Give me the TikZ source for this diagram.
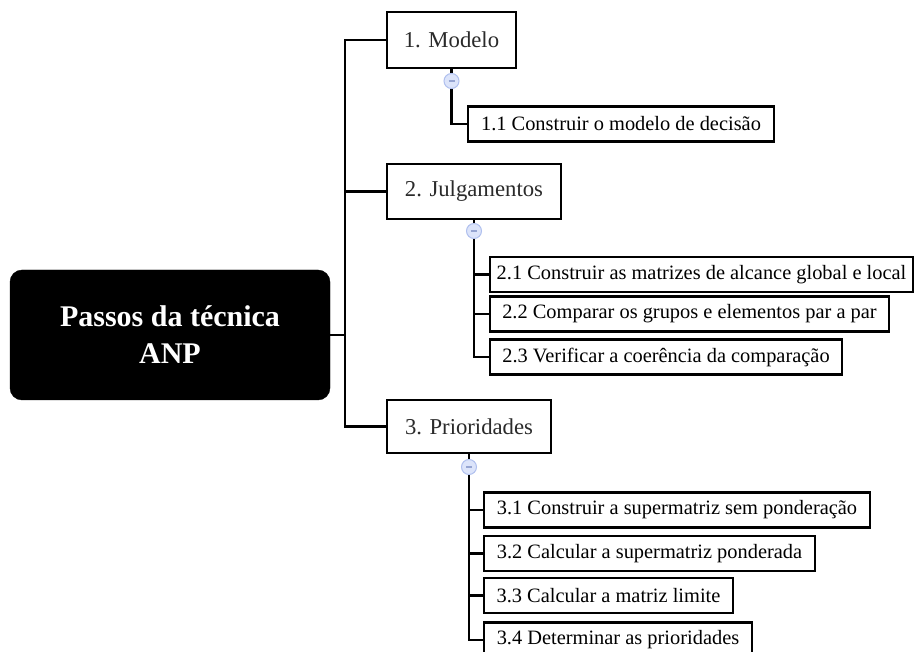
\documentclass[tikz,border=0pt]{standalone}
\usepackage{fontspec}
\setmainfont{Liberation Serif}
\definecolor{txtgray}{HTML}{2A2A2A}
\definecolor{dotfill}{RGB}{220,228,250}
\definecolor{dotline}{RGB}{176,192,238}
\definecolor{dotminus}{RGB}{150,165,210}
\begin{document}
\begin{tikzpicture}[x=1pt,y=-1pt,
  rootbox/.style={rectangle, rounded corners=12pt, fill=black, draw=black,
    minimum width=320pt, minimum height=130pt, text=white, align=center,
    font=\fontsize{30}{37}\selectfont\bfseries},
  topbox/.style={rectangle, draw=black, line width=2.4pt, fill=white,
    minimum height=#1, text=txtgray, font=\fontsize{22.7}{26}\selectfont, inner sep=0pt},
  subbox/.style={rectangle, draw=black, line width=2.4pt, fill=white,
    minimum height=35pt, text=black, font=\fontsize{20.4}{24}\selectfont, inner sep=0pt},
  link/.style={draw=black, line width=2.4pt},
  dot/.style={circle, minimum size=15pt, inner sep=0pt, fill=dotfill, draw=dotline, line width=1pt,
    path picture={\draw[dotminus, line width=1.2pt] ([xshift=-3pt]path picture bounding box.center) -- ([xshift=3pt]path picture bounding box.center);}}
]
\useasboundingbox (0,0) rectangle (914,652);

% root
\node[rootbox] (root) at (170,335) {Passos da técnica\\ANP};
\coordinate (tr) at (345,335);

% top-level
\node[topbox=56pt, minimum width=129pt] (m1) at (451.5,40) {1. Modelo};
\node[topbox=55pt, minimum width=174pt] (m2) at (474,191.5) {2. Julgamentos};
\node[topbox=53pt, minimum width=164pt] (m3) at (469,426.5) {3. Prioridades};

% sub boxes
\node[subbox, minimum width=306pt] (s11) at (621,124) {1.1 Construir o modelo de decisão};
\node[subbox, minimum width=423pt] (s21) at (701.5,274.5) {2.1 Construir as matrizes de alcance global e local};
\node[subbox, minimum width=399pt] (s22) at (689.5,314) {2.2 Comparar os grupos e elementos par a par};
\node[subbox, minimum width=352pt] (s23) at (666,357) {2.3 Verificar a coerência da comparação};
\node[subbox, minimum width=386pt] (s31) at (677,510) {3.1 Construir a supermatriz sem ponderação};
\node[subbox, minimum width=331pt] (s32) at (649.5,553.5) {3.2 Calcular a supermatriz ponderada};
\node[subbox, minimum width=249pt] (s33) at (608.5,595.5) {3.3 Calcular a matriz limite};
\node[subbox, minimum width=268pt] (s34) at (618,640) {3.4 Determinar as prioridades};

% collapse dots positions
\coordinate (c1p) at (451.5,81);
\coordinate (c2p) at (474,231);
\coordinate (c3p) at (469,467);

% connectors (behind)
\begin{scope}[on background layer/.style={}]
\draw[link] (root.east) -- (tr);
\draw[link] (tr) |- (m1.west);
\draw[link] (tr) |- (m2.west);
\draw[link] (tr) |- (m3.west);
\draw[link] (m1.south) -- (c1p) |- (s11.west);
\draw[link] (m2.south) -- (c2p) |- (s21.west);
\draw[link] (c2p) |- (s22.west);
\draw[link] (c2p) |- (s23.west);
\draw[link] (m3.south) -- (c3p) |- (s31.west);
\draw[link] (c3p) |- (s32.west);
\draw[link] (c3p) |- (s33.west);
\draw[link] (c3p) |- (s34.west);
\end{scope}

\node[dot] (c1) at (c1p) {};
\node[dot] (c2) at (c2p) {};
\node[dot] (c3) at (c3p) {};
\end{tikzpicture}
\end{document}
